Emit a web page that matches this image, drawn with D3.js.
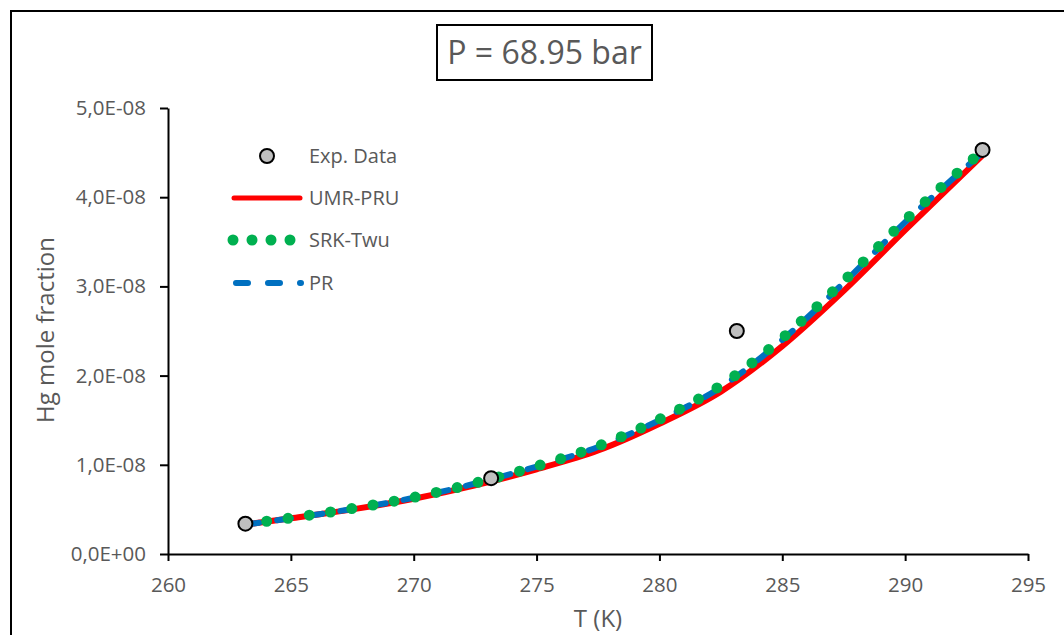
<!DOCTYPE html>
<html>
<head>
<meta charset="utf-8">
<script src="https://cdn.jsdelivr.net/npm/d3@7"></script>
<style>
  body { margin: 0; background: #fff; overflow: hidden; }
  svg { display: block; }
  text { font-family: "Open Sans", sans-serif; fill: #595959; }
</style>
</head>
<body>
<svg id="chart"></svg>
<script>
const width = 1064;
const height = 635;
const margin = { top: 108, right: 36, bottom: 81, left: 168 };
const innerWidth = width - margin.left - margin.right;
const innerHeight = height - margin.top - margin.bottom;

// experimental points
const expT = [263.15, 273.15, 283.15, 293.15];
const expX = [3.4e-9, 8.5e-9, 2.5e-8, 4.53e-8];

// model curves
const modelT = [263.15, 265, 267.5, 270, 272.5, 275, 277.5, 280, 282.5, 285, 287.5, 290, 293.15];
const umrPru = [3.3e-9, 4.0e-9, 5.0e-9, 6.2e-9, 7.7e-9, 9.5e-9, 1.16e-8, 1.46e-8, 1.82e-8, 2.33e-8, 2.95e-8, 3.63e-8, 4.47e-8];
const srkTwu = [3.35e-9, 4.05e-9, 5.1e-9, 6.35e-9, 7.95e-9, 9.85e-9, 1.21e-8, 1.51e-8, 1.89e-8, 2.42e-8, 3.06e-8, 3.74e-8, 4.52e-8];
const pr = [3.3e-9, 4.0e-9, 5.05e-9, 6.3e-9, 7.9e-9, 9.8e-9, 1.20e-8, 1.50e-8, 1.87e-8, 2.40e-8, 3.04e-8, 3.72e-8, 4.50e-8];

const xTicks = [260, 265, 270, 275, 280, 285, 290, 295];
const yTicks = [0, 1e-8, 2e-8, 3e-8, 4e-8, 5e-8];
const yTickLabels = ['0,0E+00', '1,0E-08', '2,0E-08', '3,0E-08', '4,0E-08', '5,0E-08'];

const svg = d3.select('#chart')
  .attr('width', width)
  .attr('height', height);

// outer frame: only top and left edges are inside the picture
svg.append('path')
  .attr('d', `M11,${height} V11 H${width}`)
  .attr('fill', 'none')
  .attr('stroke', '#000')
  .attr('stroke-width', 2);

const xScale = d3.scaleLinear().domain([260, 295]).range([0, innerWidth]);
const yScale = d3.scaleLinear().domain([0, 5e-8]).range([innerHeight, 0]);

const g = svg.append('g')
  .attr('transform', `translate(${margin.left}, ${margin.top})`);

// axes
const xAxis = d3.axisBottom(xScale)
  .tickValues(xTicks)
  .tickFormat(d3.format('d'))
  .tickSize(7)
  .tickSizeOuter(0)
  .tickPadding(16);

const yAxis = d3.axisLeft(yScale)
  .tickValues(yTicks)
  .tickFormat((d, i) => yTickLabels[i])
  .tickSize(8)
  .tickSizeOuter(0)
  .tickPadding(14);

const gx = g.append('g')
  .attr('transform', `translate(0, ${innerHeight})`)
  .call(xAxis);
const gy = g.append('g').call(yAxis);

[gx, gy].forEach(ax => {
  ax.attr('font-family', '"Open Sans", sans-serif').attr('font-size', 20.5);
  ax.selectAll('path, line').attr('stroke', '#000').attr('stroke-width', 2);
  ax.selectAll('text').attr('fill', '#595959');
});

// axis titles
svg.append('text')
  .attr('x', 598).attr('y', 627)
  .attr('text-anchor', 'middle')
  .attr('font-size', 24)
  .text('T (K)');

svg.append('text')
  .attr('transform', 'translate(54, 330) rotate(-90)')
  .attr('text-anchor', 'middle')
  .attr('font-size', 24)
  .text('Hg mole fraction');

// title box
svg.append('rect')
  .attr('x', 437).attr('y', 25)
  .attr('width', 215).attr('height', 55)
  .attr('fill', '#fff')
  .attr('stroke', '#000')
  .attr('stroke-width', 2);
svg.append('text')
  .attr('x', 544.5).attr('y', 64)
  .attr('text-anchor', 'middle')
  .attr('font-size', 32)
  .text('P = 68.95 bar');

// lines
const line = d3.line()
  .x(d => xScale(d[0]))
  .y(d => yScale(d[1]))
  .curve(d3.curveMonotoneX);

g.append('path')
  .datum(d3.zip(modelT, umrPru))
  .attr('d', line)
  .attr('fill', 'none')
  .attr('stroke', '#ff0000')
  .attr('stroke-width', 6);

g.append('path')
  .datum(d3.zip(modelT, pr))
  .attr('d', line)
  .attr('fill', 'none')
  .attr('stroke', '#0070c0')
  .attr('stroke-width', 6)
  .attr('stroke-linecap', 'round')
  .attr('stroke-dasharray', '14 18');

g.append('path')
  .datum(d3.zip(modelT, srkTwu))
  .attr('d', line)
  .attr('fill', 'none')
  .attr('stroke', '#00b050')
  .attr('stroke-width', 11)
  .attr('stroke-linecap', 'round')
  .attr('stroke-dasharray', '0 21.5');

// experimental points
g.selectAll('circle.exp')
  .data(d3.zip(expT, expX))
  .enter()
  .append('circle')
  .attr('class', 'exp')
  .attr('cx', d => xScale(d[0]))
  .attr('cy', d => yScale(d[1]))
  .attr('r', 7)
  .attr('fill', '#bfbfbf')
  .attr('stroke', '#000')
  .attr('stroke-width', 2);

// legend
const legend = svg.append('g');
legend.append('circle')
  .attr('cx', 267).attr('cy', 156)
  .attr('r', 7)
  .attr('fill', '#bfbfbf')
  .attr('stroke', '#000')
  .attr('stroke-width', 2);
legend.append('line')
  .attr('x1', 234).attr('x2', 300).attr('y1', 198).attr('y2', 198)
  .attr('stroke', '#ff0000').attr('stroke-width', 5).attr('stroke-linecap', 'round');
legend.append('line')
  .attr('x1', 233).attr('x2', 300).attr('y1', 240).attr('y2', 240)
  .attr('stroke', '#00b050').attr('stroke-width', 11)
  .attr('stroke-linecap', 'round').attr('stroke-dasharray', '0 19');
legend.append('line')
  .attr('x1', 236).attr('x2', 301).attr('y1', 283).attr('y2', 283)
  .attr('stroke', '#0070c0').attr('stroke-width', 6)
  .attr('stroke-linecap', 'round').attr('stroke-dasharray', '12 20');

const legendNames = ['Exp. Data', 'UMR-PRU', 'SRK-Twu', 'PR'];
const legendY = [156, 198, 240, 283];
legend.selectAll('text')
  .data(legendNames)
  .enter()
  .append('text')
  .attr('x', 309)
  .attr('y', (d, i) => legendY[i])
  .attr('dy', '0.36em')
  .attr('font-size', 20)
  .text(d => d);
</script>
</body>
</html>
